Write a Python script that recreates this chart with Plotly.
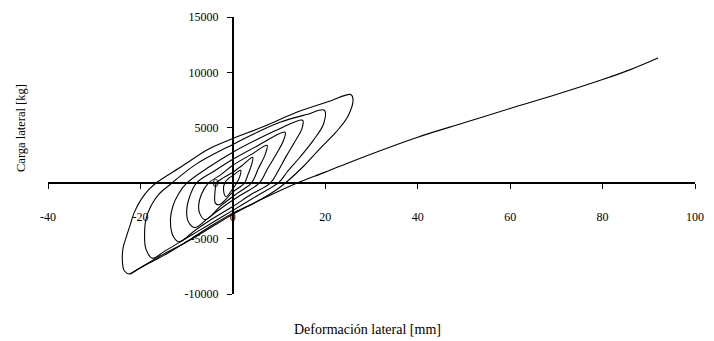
import plotly.graph_objects as go

# ---- data ----
loop1_x = [25.5, 26.0, 24.9, 22.3, 18.7, 15.3, 12.3, 9.6, 5.0, 0.0, -4.5, -9.0, -14.0, -19.0, -21.0, -22.3,
           -23.5, -23.8, -23.8, -23.0, -22.3, -21.3, -19.8, -18.1, -16.4, -11.0, -5.3, -0.4, 6.8, 13.8, 20.9, 25.5]
loop1_y = [8000, 7570, 6040, 4600, 3060, 1530, 360, -540, -1700, -2700, -3800, -5000, -6300, -7400, -7900, -8200,
           -7900, -7480, -5950, -4770, -3870, -2610, -1440, -540, 90, 1530, 3060, 3960, 5140, 6400, 7390, 8000]

loop2_x = [19.8, 19.6, 17.4, 14.5, 11.7, 10.0, 5.0, 0.0, -5.0, -10.0, -15.0, -17.4,
           -18.8, -19.1, -18.8, -17.7, -16.0, -13.5, -8.0, 0.0, 5.3, 10.2, 16.0, 19.8]
loop2_y = [6580, 5320, 3870, 2340, 990, 90, -1200, -2450, -3700, -4950, -6200, -6780,
           -5950, -4750, -3240, -2040, -990, -90, 1700, 3500, 4600, 5500, 6200, 6580]

loop3_x = [15.1, 15.0, 13.5, 11.5, 9.8, 8.1, 4.0, 0.0, -4.0, -8.0, -11.7,
           -13.0, -13.5, -13.0, -11.8, -10.0, -5.0, 0.0, 5.0, 10.0, 15.1]
loop3_y = [5680, 5000, 3800, 2400, 1100, 0, -1000, -2100, -3100, -4200, -5290,
           -4700, -3240, -2100, -1000, 0, 1500, 2800, 3900, 4900, 5680]

loop4_x = [11.3, 11.0, 9.5, 7.5, 5.7, 2.0, -2.0, -5.5, -8.2,
           -9.6, -10.0, -9.5, -7.9, -4.0, 0.0, 5.0, 11.3]
loop4_y = [4600, 3900, 2700, 1300, 0, -1000, -2100, -3200, -4000,
           -3500, -2500, -1400, 0, 1100, 2160, 3300, 4600]

loop5_x = [7.4, 7.0, 5.5, 4.0, 1.0, -2.5, -6.0, -7.2, -7.4, -6.8, -5.3, -2.5, 0.0, 4.0, 7.4]
loop5_y = [3420, 2600, 1300, 0, -900, -2000, -3300, -2700, -2000, -1000, 0, 800, 1620, 2600, 3420]

loop6_x = [4.3, 4.0, 3.2, 2.5, 0.0, -2.1, -3.0, -3.8, -3.8, -3.6, -2.0, 0.0, 2.0, 4.3]
loop6_y = [2340, 1600, 700, 0, -800, -1700, -1950, -1800, -500, 0, 500, 990, 1600, 2340]

loop7_x = [1.7, 1.5, 0.8, 0.0, -1.5, -2.0, -1.8, -1.0, 0.0, 1.7]
loop7_y = [1170, 600, 0, -500, -1200, -700, 0, 400, 700, 1170]

push_x = [-22.3, -15.0, -9.5, -4.0, 0.0, 6.0, 13.8, 20.0, 26.6, 40.0, 50.0, 60.0, 70.0, 80.0, 86.0, 92.0]
push_y = [-8200, -6400, -5200, -3800, -2800, -1500, 0, 1000, 2100, 4150, 5450, 6750, 8000, 9350, 10250, 11300]

x_ticks = [-40, -20, 0, 20, 40, 60, 80, 100]
x_ticktext = ["-40", "-20", "0", "20", "40", "60", "80", "100"]
y_ticks = [-10000, -5000, 0, 5000, 10000, 15000]
y_ticktext = ["-10000", "-5000", "0", "5000", "10000", "15000"]

x_title = "Deformación lateral [mm]"
y_title = "Carga lateral [kg]"

# ---- figure ----
fig = go.Figure()
series = [(loop7_x, loop7_y), (loop6_x, loop6_y), (loop5_x, loop5_y), (loop4_x, loop4_y),
          (loop3_x, loop3_y), (loop2_x, loop2_y), (loop1_x, loop1_y), (push_x, push_y)]
for xs, ys in series:
    fig.add_trace(go.Scatter(x=xs, y=ys, mode="lines", line=dict(color="black", width=1.1),
                             line_shape="spline", showlegend=False, hoverinfo="skip"))

XMIN, XMAX = -40, 100
YMIN, YMAX = -10000, 15000
serif = "Liberation Serif, Times New Roman, serif"
font_ticks = dict(family=serif, size=12, color="black")

fig.update_layout(
    width=714, height=341,
    margin=dict(l=48, r=10, t=16, b=47),
    paper_bgcolor="white", plot_bgcolor="white",
    xaxis=dict(range=[XMIN, XMAX], anchor="free", position=(0 - YMIN) / (YMAX - YMIN),
               showline=True, linecolor="black", linewidth=2, zeroline=False, showgrid=False,
               tickmode="array", tickvals=x_ticks, ticktext=x_ticktext,
               ticks="outside", ticklen=5, tickwidth=1.3, tickcolor="black",
               ticklabelstandoff=17, tickfont=font_ticks),
    yaxis=dict(range=[YMIN, YMAX], anchor="free", position=(0 - XMIN) / (XMAX - XMIN),
               showline=True, linecolor="black", linewidth=2, zeroline=False, showgrid=False,
               tickmode="array", tickvals=y_ticks, ticktext=y_ticktext,
               ticks="outside", ticklen=5, tickwidth=1.3, tickcolor="black",
               ticklabelstandoff=6, tickfont=font_ticks),
    annotations=[
        dict(text=x_title, xref="paper", yref="paper", x=(372 - 48) / 656, y=-(330 - 294) / 278,
             showarrow=False, xanchor="center", yanchor="middle",
             font=dict(family=serif, size=14, color="black")),
        dict(text=y_title, xref="paper", yref="paper", x=-(48 - 20) / 656, y=(294 - 127) / 278,
             showarrow=False, xanchor="center", yanchor="middle", textangle=-90,
             font=dict(family=serif, size=12.5, color="black")),
    ],
)

fig.write_html("out.html")
